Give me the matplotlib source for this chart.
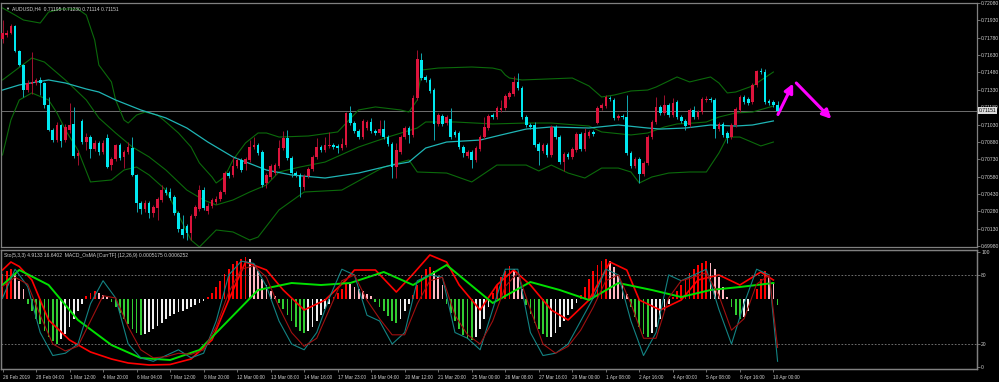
import numpy as np
import matplotlib.pyplot as plt

plt.rcParams['font.family'] = ['Liberation Sans', 'DejaVu Sans']

# AUDUSD H4 candles, bar 0 = 26 Feb 2019 20:00
opens = [0.71769, 0.71804, 0.71821, 0.71881, 0.71665, 0.71544, 0.71328, 0.71380, 0.71389, 0.71415,
         0.71389, 0.71199, 0.70983, 0.70896, 0.71026, 0.70896, 0.70983, 0.71035, 0.70758, 0.71061,
         0.70879, 0.70922, 0.70819, 0.70871, 0.70793, 0.70914, 0.70680, 0.70732, 0.70853, 0.70750,
         0.70793, 0.70827, 0.70594, 0.70352, 0.70300, 0.70352, 0.70266, 0.70309, 0.70378, 0.70464,
         0.70447, 0.70404, 0.70266, 0.70127, 0.70153, 0.70093, 0.70240, 0.70300, 0.70464, 0.70283,
         0.70326, 0.70361, 0.70387, 0.70447, 0.70611, 0.70594, 0.70672, 0.70724, 0.70689, 0.70724,
         0.70836, 0.70853, 0.70793, 0.70525, 0.70577, 0.70611, 0.70672, 0.70827, 0.70914, 0.70741,
         0.70611, 0.70594, 0.70490, 0.70585, 0.70646, 0.70750, 0.70836, 0.70810, 0.70845, 0.70853,
         0.70845, 0.70827, 0.70853, 0.71130, 0.71043, 0.70974, 0.70922, 0.71000, 0.71052, 0.70974,
         0.70957, 0.70991, 0.70922, 0.70862, 0.70663, 0.70793, 0.70922, 0.71000, 0.70940, 0.71259,
         0.71588, 0.71441, 0.71415, 0.71328, 0.71035, 0.71104, 0.71043, 0.71078, 0.70966, 0.70957,
         0.70836, 0.70758, 0.70793, 0.70724, 0.70819, 0.70922, 0.71000, 0.71112, 0.71095, 0.71156,
         0.71173, 0.71268, 0.71294, 0.71398, 0.71346, 0.71095, 0.71026, 0.71026, 0.70862, 0.70801,
         0.70853, 0.70767, 0.71009, 0.70922, 0.70706, 0.70775, 0.70750, 0.70810, 0.70948, 0.70819,
         0.70931, 0.70966, 0.71043, 0.71173, 0.71190, 0.71259, 0.71242, 0.71087, 0.71104, 0.71095,
         0.70784, 0.70672, 0.70732, 0.70603, 0.70698, 0.70922, 0.71052, 0.71182, 0.71130, 0.71199,
         0.71112, 0.71225, 0.71095, 0.71061, 0.71026, 0.71156, 0.71095, 0.71138, 0.71242, 0.71251,
         0.71242, 0.70991, 0.71035, 0.70957, 0.70922, 0.71026, 0.71156, 0.71268, 0.71251, 0.71225,
         0.71372, 0.71493, 0.71484, 0.71233, 0.71225, 0.71195]
highs = [0.71933, 0.71847, 0.71899, 0.71890, 0.71674, 0.71553, 0.71415, 0.71657, 0.71432, 0.71441,
         0.71398, 0.71268, 0.71000, 0.71052, 0.71035, 0.71035, 0.71216, 0.71182, 0.70810, 0.71078,
         0.70957, 0.70940, 0.70896, 0.70888, 0.70896, 0.70948, 0.70750, 0.70862, 0.70871, 0.70810,
         0.70879, 0.70922, 0.70603, 0.70369, 0.70378, 0.70369, 0.70335, 0.70404, 0.70508, 0.70490,
         0.70482, 0.70421, 0.70283, 0.70248, 0.70171, 0.70257, 0.70335, 0.70508, 0.70490, 0.70352,
         0.70395, 0.70413, 0.70464, 0.70629, 0.70629, 0.70750, 0.70741, 0.70741, 0.70750, 0.70896,
         0.70922, 0.70871, 0.70810, 0.70611, 0.70689, 0.70698, 0.70896, 0.70974, 0.70983, 0.70758,
         0.70629, 0.70611, 0.70603, 0.70663, 0.70767, 0.70914, 0.70853, 0.70922, 0.70966, 0.70871,
         0.70862, 0.70914, 0.71138, 0.71190, 0.71061, 0.70991, 0.71078, 0.71069, 0.71087, 0.70991,
         0.71069, 0.71069, 0.70940, 0.70879, 0.70871, 0.70940, 0.71017, 0.71017, 0.71285, 0.71674,
         0.71648, 0.71458, 0.71432, 0.71346, 0.71130, 0.71121, 0.71112, 0.71173, 0.70983, 0.70974,
         0.70853, 0.70810, 0.70810, 0.70845, 0.70940, 0.71095, 0.71121, 0.71130, 0.71190, 0.71242,
         0.71294, 0.71320, 0.71449, 0.71475, 0.71363, 0.71112, 0.71043, 0.71052, 0.70879, 0.70871,
         0.70871, 0.71026, 0.71026, 0.70940, 0.70793, 0.70793, 0.70836, 0.70966, 0.70966, 0.71000,
         0.70983, 0.70983, 0.71190, 0.71216, 0.71285, 0.71277, 0.71259, 0.71121, 0.71121, 0.71285,
         0.70801, 0.70750, 0.70750, 0.70715, 0.70940, 0.71069, 0.71268, 0.71199, 0.71285, 0.71216,
         0.71259, 0.71242, 0.71112, 0.71078, 0.71173, 0.71190, 0.71156, 0.71268, 0.71277, 0.71268,
         0.71259, 0.71052, 0.71052, 0.70974, 0.71043, 0.71182, 0.71285, 0.71285, 0.71268, 0.71389,
         0.71501, 0.71518, 0.71510, 0.71251, 0.71242, 0.71230]
lows = [0.71734, 0.71786, 0.71812, 0.71657, 0.71536, 0.71268, 0.71311, 0.71294, 0.71372, 0.71285,
        0.71173, 0.70974, 0.70879, 0.70879, 0.70836, 0.70879, 0.70957, 0.70741, 0.70680, 0.70862,
        0.70810, 0.70741, 0.70801, 0.70767, 0.70775, 0.70654, 0.70637, 0.70715, 0.70724, 0.70654,
        0.70775, 0.70585, 0.70274, 0.70257, 0.70274, 0.70222, 0.70231, 0.70205, 0.70361, 0.70421,
        0.70378, 0.70248, 0.70102, 0.70050, 0.70032, 0.70032, 0.70222, 0.70283, 0.70292, 0.70257,
        0.70309, 0.70343, 0.70369, 0.70430, 0.70568, 0.70577, 0.70654, 0.70620, 0.70637, 0.70706,
        0.70819, 0.70767, 0.70490, 0.70482, 0.70559, 0.70594, 0.70654, 0.70810, 0.70724, 0.70577,
        0.70577, 0.70404, 0.70464, 0.70568, 0.70629, 0.70732, 0.70793, 0.70793, 0.70827, 0.70819,
        0.70784, 0.70810, 0.70836, 0.71026, 0.70957, 0.70905, 0.70905, 0.70983, 0.70957, 0.70940,
        0.70940, 0.70905, 0.70845, 0.70568, 0.70568, 0.70775, 0.70905, 0.70871, 0.70922, 0.71242,
        0.71415, 0.71398, 0.71303, 0.70896, 0.71017, 0.71017, 0.71026, 0.70905, 0.70922, 0.70819,
        0.70750, 0.70741, 0.70654, 0.70706, 0.70801, 0.70905, 0.70983, 0.71078, 0.71078, 0.71138,
        0.71156, 0.71251, 0.71277, 0.71328, 0.71078, 0.71009, 0.70991, 0.70836, 0.70680, 0.70784,
        0.70750, 0.70750, 0.70905, 0.70689, 0.70629, 0.70732, 0.70732, 0.70793, 0.70801, 0.70801,
        0.70914, 0.70931, 0.71035, 0.71156, 0.71173, 0.71233, 0.71069, 0.71069, 0.71078, 0.70767,
        0.70654, 0.70654, 0.70525, 0.70585, 0.70680, 0.70905, 0.71035, 0.71112, 0.71112, 0.71095,
        0.71095, 0.71078, 0.71043, 0.70983, 0.71009, 0.71078, 0.71078, 0.71121, 0.71225, 0.71225,
        0.70914, 0.70974, 0.70922, 0.70871, 0.70905, 0.71009, 0.71138, 0.71208, 0.71199, 0.71208,
        0.71354, 0.71467, 0.71208, 0.71199, 0.71182, 0.71114]
closes = [0.71821, 0.71821, 0.71881, 0.71665, 0.71544, 0.71328, 0.71389, 0.71398, 0.71415, 0.71389,
          0.71199, 0.70983, 0.70896, 0.71026, 0.70888, 0.71009, 0.71026, 0.70758, 0.70784, 0.70879,
          0.70922, 0.70819, 0.70871, 0.70793, 0.70871, 0.70663, 0.70732, 0.70853, 0.70741, 0.70793,
          0.70836, 0.70594, 0.70352, 0.70300, 0.70352, 0.70266, 0.70318, 0.70387, 0.70464, 0.70438,
          0.70395, 0.70266, 0.70127, 0.70076, 0.70093, 0.70240, 0.70318, 0.70464, 0.70309, 0.70326,
          0.70378, 0.70387, 0.70447, 0.70611, 0.70585, 0.70672, 0.70724, 0.70637, 0.70732, 0.70836,
          0.70853, 0.70784, 0.70508, 0.70594, 0.70672, 0.70680, 0.70827, 0.70914, 0.70741, 0.70611,
          0.70594, 0.70490, 0.70585, 0.70646, 0.70750, 0.70836, 0.70810, 0.70853, 0.70853, 0.70836,
          0.70827, 0.70862, 0.71130, 0.71043, 0.70974, 0.70922, 0.71061, 0.71052, 0.70974, 0.70957,
          0.70991, 0.70922, 0.70862, 0.70663, 0.70810, 0.70922, 0.71000, 0.70940, 0.71259, 0.71596,
          0.71432, 0.71415, 0.71320, 0.71035, 0.71112, 0.71035, 0.71095, 0.70922, 0.70940, 0.70836,
          0.70784, 0.70793, 0.70724, 0.70827, 0.70922, 0.71009, 0.71104, 0.71095, 0.71173, 0.71173,
          0.71277, 0.71303, 0.71398, 0.71346, 0.71095, 0.71026, 0.71009, 0.70853, 0.70801, 0.70853,
          0.70767, 0.71009, 0.70922, 0.70706, 0.70775, 0.70750, 0.70819, 0.70948, 0.70819, 0.70957,
          0.70966, 0.70948, 0.71173, 0.71199, 0.71268, 0.71251, 0.71087, 0.71104, 0.71095, 0.70784,
          0.70672, 0.70732, 0.70603, 0.70698, 0.70922, 0.71052, 0.71182, 0.71130, 0.71199, 0.71112,
          0.71216, 0.71095, 0.71061, 0.71017, 0.71156, 0.71095, 0.71138, 0.71251, 0.71251, 0.71242,
          0.70991, 0.71035, 0.70940, 0.70914, 0.71026, 0.71164, 0.71268, 0.71225, 0.71216, 0.71372,
          0.71493, 0.71484, 0.71225, 0.71216, 0.71199, 0.71151]

# Bollinger bands and moving average, read at the bars where they bend
upper_bars = [0, 3, 5, 9, 11, 14, 18, 20, 22, 23, 26, 27, 29, 30, 32, 34, 37, 39, 42, 45, 47, 50, 51, 53,
              55, 58, 61, 63, 66, 73, 80, 85, 89, 95, 97, 99, 100, 104, 112, 117, 119, 120, 121, 124,
              136, 140, 143, 146, 150, 154, 156, 161, 164, 169, 171, 173, 175, 179, 184]
upper = [0.72037, 0.71976, 0.71933, 0.71907, 0.72002, 0.72028, 0.72028, 0.71976, 0.71760, 0.71544,
         0.71398, 0.71242, 0.71069, 0.71043, 0.71112, 0.71138, 0.71112, 0.71052, 0.70957, 0.70836,
         0.70698, 0.70577, 0.70525, 0.70577, 0.70724, 0.70871, 0.70957, 0.70957, 0.70922, 0.70931,
         0.70966, 0.71156, 0.71182, 0.71156, 0.71138, 0.71242, 0.71501, 0.71518, 0.71527, 0.71518,
         0.71501, 0.71458, 0.71432, 0.71415, 0.71432, 0.71363, 0.71268, 0.71285, 0.71320, 0.71328,
         0.71354, 0.71441, 0.71398, 0.71441, 0.71389, 0.71303, 0.71311, 0.71363, 0.71484]
middle_bars = [0, 7, 10, 15, 20, 23, 27, 31, 35, 39, 44, 48, 51, 55, 59, 63, 66, 71, 77, 85, 92, 99,
               101, 108, 117, 125, 131, 140, 143, 150, 154, 158, 161, 165, 168, 171, 175, 179, 184]
middle = [0.71415, 0.71605, 0.71570, 0.71415, 0.71242, 0.71087, 0.70957, 0.70836, 0.70750, 0.70637,
          0.70464, 0.70378, 0.70335, 0.70378, 0.70447, 0.70508, 0.70620, 0.70663, 0.70706, 0.70836,
          0.70922, 0.71000, 0.71052, 0.71052, 0.71035, 0.71043, 0.71043, 0.71017, 0.70966, 0.70940,
          0.70957, 0.71009, 0.71035, 0.71043, 0.71052, 0.71095, 0.71130, 0.71138, 0.71190]
lower_bars = [0, 2, 4, 7, 11, 13, 15, 18, 21, 26, 29, 32, 35, 39, 42, 45, 47, 51, 55, 59, 61, 66, 72,
              81, 91, 97, 99, 106, 112, 118, 125, 128, 131, 135, 139, 143, 147, 150, 152, 155, 159,
              164, 168, 171, 173, 176, 181, 184]
lower = [0.70767, 0.71069, 0.71242, 0.71303, 0.71242, 0.71130, 0.70983, 0.70810, 0.70534, 0.70551,
         0.70637, 0.70663, 0.70594, 0.70464, 0.70248, 0.70032, 0.69972, 0.70119, 0.70102, 0.70032,
         0.70058, 0.70292, 0.70447, 0.70464, 0.70663, 0.70724, 0.70620, 0.70611, 0.70534, 0.70680,
         0.70680, 0.70629, 0.70680, 0.70611, 0.70568, 0.70654, 0.70654, 0.70620, 0.70525, 0.70577,
         0.70611, 0.70620, 0.70620, 0.70784, 0.70922, 0.70922, 0.70845, 0.70879]
ma_bars = [0, 4, 11, 15, 20, 23, 27, 33, 39, 44, 49, 55, 63, 69, 77, 85, 93, 97, 101, 106, 114, 119,
           125, 131, 140, 147, 154, 157, 163, 169, 175, 179, 184]
ma = [0.71328, 0.71372, 0.71415, 0.71389, 0.71337, 0.71311, 0.71242, 0.71156, 0.71087, 0.71000,
      0.70879, 0.70750, 0.70637, 0.70594, 0.70568, 0.70611, 0.70680, 0.70706, 0.70827, 0.70879,
      0.70896, 0.70940, 0.70991, 0.71009, 0.71000, 0.71026, 0.71000, 0.70991, 0.71000, 0.71026,
      0.71017, 0.71026, 0.71061]

# MACD_OsMA histogram, one value per bar (units of 1e-5)
osma = [100, 112, 120, 100, 72, 40, -20, -48, -80, -100, -128, -152, -168, -180, -160, -140, -112, -80,
        -48, -20, 12, 24, 32, 24, 16, 8, -12, -32, -56, -80, -100, -120, -136, -144, -140, -132, -120,
        -108, -96, -80, -68, -60, -52, -48, -40, -32, -24, -16, -8, 8, 24, 48, 72, 100, 120, 140, 152,
        160, 168, 160, 140, 112, 80, 56, 32, 12, -16, -40, -64, -88, -112, -128, -136, -128, -112, -88,
        -64, -40, -20, 8, 24, 40, 64, 60, 48, 40, 32, 20, 12, -12, -32, -48, -68, -88, -96, -80, -48,
        -20, 16, 56, 96, 120, 128, 112, 88, 56, -20, -56, -88, -120, -144, -160, -164, -152, -120, -80,
        -32, 24, 56, 88, 112, 132, 120, 88, 40, -24, -60, -96, -120, -140, -152, -152, -136, -112, -88,
        -64, -40, -16, 16, 48, 80, 112, 136, 152, 160, 152, 128, 96, 60, 20, -32, -72, -112, -140, -152,
        -136, -112, -80, -48, -20, 8, 32, 56, 80, 104, 120, 136, 144, 152, 144, 120, 88, 48, 8, -32, -64,
        -80, -72, -48, 0, 40, 80, 112, 96, 64, -24]
macd_bars = [0, 2, 4, 7, 11, 16, 21, 26, 30, 35, 40, 45, 50, 54, 58, 63, 67, 72, 77, 82, 84, 89, 94,
             98, 102, 106, 109, 114, 118, 122, 126, 131, 135, 140, 145, 149, 152, 157, 162, 166, 171,
             176, 181, 184]
macd_main = [116, 148, 130, 76, -84, -164, -212, -240, -256, -264, -262, -240, -164, -4, 148, 116, 36,
             -44, -4, 76, 116, 116, 28, 100, 176, 148, 56, -44, 56, 116, 56, -44, -84, -4, 148, 116, -4,
             -44, -4, 76, 96, 56, 108, 76]
signal_bars = [0, 4, 11, 18, 26, 33, 40, 47, 54, 61, 69, 76, 83, 91, 98, 106, 117, 126, 133, 140,
               147, 155, 162, 169, 176, 184]
macd_signal = [56, 116, 56, -84, -184, -236, -244, -204, -84, 36, 64, 56, 64, 108, 56, 136, -16,
               68, 36, -4, 64, 36, 8, 36, 48, 64]

# Stochastic 5,3,3
stoch_bars = list(range(0, 186, 3)) + [185]
stoch_main = [60, 85, 70, 30, 10, 12, 20, 55, 75, 60, 20, 8, 5, 10, 15, 8, 12, 40, 80, 92, 90, 70,
              40, 20, 15, 30, 60, 85, 80, 45, 40, 20, 30, 75, 80, 78, 30, 25, 15, 50, 85, 85, 30, 10,
              12, 20, 40, 60, 85, 80, 40, 10, 30, 80, 75, 80, 85, 50, 20, 55, 85, 80, 5]
stoch_signal = [70, 78, 72, 45, 20, 14, 18, 40, 62, 60, 35, 15, 8, 9, 12, 11, 15, 35, 65, 85, 88, 78,
                52, 30, 18, 25, 50, 75, 80, 58, 42, 28, 28, 55, 75, 78, 45, 28, 20, 40, 70, 82, 50,
                20, 12, 18, 32, 52, 75, 80, 55, 25, 25, 60, 75, 78, 82, 62, 32, 42, 72, 80, 17]

date_labels = ['26 Feb 2019', '28 Feb 04:00', '1 Mar 12:00', '4 Mar 20:00', '6 Mar 04:00',
               '7 Mar 12:00', '8 Mar 20:00', '12 Mar 00:00', '13 Mar 08:00', '14 Mar 16:00',
               '17 Mar 23:00', '19 Mar 04:00', '20 Mar 12:00', '21 Mar 20:00', '25 Mar 00:00',
               '26 Mar 08:00', '27 Mar 16:00', '29 Mar 00:00', '1 Apr 08:00', '2 Apr 16:00',
               '4 Apr 00:00', '5 Apr 08:00', '8 Apr 16:00', '10 Apr 00:00']
price_ticks = [0.72080, 0.71930, 0.71780, 0.71630, 0.71480, 0.71330, 0.71180, 0.71030, 0.70880,
               0.70730, 0.70580, 0.70430, 0.70280, 0.70130, 0.69980]

BG = 'black'
GRID = '#808080'
TXT = '#d0d0d0'
BULL = '#dc143c'
BEAR = '#00e8f0'
FS = 3.6

fig = plt.figure(figsize=(9.99, 3.82), dpi=100, facecolor=BG)
ax = fig.add_axes([1 / 999, 135 / 382, 976 / 999, 244 / 382], facecolor=BG)
ax2 = fig.add_axes([1 / 999, 13 / 382, 976 / 999, 119 / 382], facecolor=BG)
ax3 = ax2.twinx()

xlim = (-0.36, 232.6)

# candles
o = np.array(opens)
h = np.array(highs)
l = np.array(lows)
c = np.array(closes)
x = np.arange(len(c))
up = c >= o
body_col = np.where(up, BULL, BEAR)
wick_col = np.where(up, '#a0102e', '#10a8b0')
ax.vlines(x, l, h, colors=wick_col, lw=0.7, zorder=3)
ax.bar(x, np.maximum(np.abs(c - o), 0.00003), bottom=np.minimum(o, c), width=0.62,
       color=body_col, linewidth=0, zorder=4)

ax.plot(upper_bars, upper, color='#0b6a0b', lw=0.8, zorder=2)
ax.plot(middle_bars, middle, color='#0b6a0b', lw=0.8, zorder=2)
ax.plot(lower_bars, lower, color='#0b6a0b', lw=0.8, zorder=2)
ax.plot(ma_bars, ma, color='#1fb5b5', lw=0.9, zorder=2)

ax.axhline(closes[-1], color=GRID, lw=0.6, zorder=1)

ax.annotate('', xy=(189.0, 0.71406), xytext=(184.8, 0.71095),
            arrowprops=dict(arrowstyle='-|>', color='#ff00ff', lw=2.2, mutation_scale=13))
ax.annotate('', xy=(198.3, 0.71061), xytext=(189.0, 0.71406),
            arrowprops=dict(arrowstyle='-|>', color='#ff00ff', lw=2.2, mutation_scale=13))

ax.set_xlim(*xlim)
ax.set_ylim(0.69972, 0.72080)
ax.set_xticks([])
ax.yaxis.tick_right()
ax.set_yticks(price_ticks)
ax.set_yticklabels(['%.5f' % p for p in price_ticks])
ax.tick_params(axis='y', colors=GRID, labelcolor=TXT, labelsize=FS, length=2, width=0.6, pad=1)
ax.text(1.002, closes[-1], '%.5f' % closes[-1], transform=ax.get_yaxis_transform(),
        fontsize=FS, color='black', va='center', ha='left', zorder=10, clip_on=False,
        bbox=dict(facecolor='#dcdcdc', edgecolor='none', pad=0.5))
ax.text(0.004, 0.985, '\u25bc', transform=ax.transAxes, fontsize=3, color=TXT, va='top', ha='left')
ax.text(0.011, 0.985, 'AUDUSD,H4  0.71195 0.71230 0.71114 0.71151', transform=ax.transAxes,
        fontsize=FS, color=TXT, va='top', ha='left')

# lower window: OsMA histogram and MACD lines
vals = np.array(osma) * 1e-5
prev = np.concatenate([[vals[0]], vals[:-1]])
hist_col = []
for v, p in zip(vals, prev):
    if v >= 0:
        hist_col.append('#ff0000' if v >= p else '#ffb6c1')
    else:
        hist_col.append('#32cd32' if v < p else '#f0f0f0')
ax2.bar(x, vals, width=0.42, color=hist_col, linewidth=0, zorder=2)
ax2.plot(macd_bars, np.array(macd_main) * 1e-5, color='#ff0000', lw=1.2, zorder=4)
ax2.plot(signal_bars, np.array(macd_signal) * 1e-5, color='#00e000', lw=1.4, zorder=4)
ax2.set_ylim(-0.0028, 0.00196)
ax2.set_xlim(*xlim)
ax2.set_yticks([])

pos = [8 * k for k in range(len(date_labels))]
ax2.set_xticks(pos)
ax2.set_xticklabels(date_labels, ha='left')
ax2.tick_params(axis='x', colors=GRID, labelcolor=TXT, labelsize=3.4, length=2.5, width=0.6, pad=1.5)

# stochastic on its own 0-100 scale
ax3.plot(stoch_bars, stoch_main, color='#138383', lw=0.8, zorder=3)
ax3.plot(stoch_bars, stoch_signal, color='#a01010', lw=0.8, zorder=3)
for lvl in (80, 20):
    ax3.axhline(lvl, color=GRID, lw=0.6, ls=(0, (2, 2)), zorder=1)
ax3.set_ylim(-1.7, 101.7)
ax3.set_xlim(*xlim)
ax3.set_yticks([100, 80, 20, 0])
ax3.set_yticklabels(['100', '80', '20', '0'])
ax3.tick_params(axis='y', colors=GRID, labelcolor=TXT, labelsize=FS, length=2, width=0.6, pad=1)
ax3.text(0.003, 0.975, 'Sto(5,3,3) 4.9133 16.6402  MACD_OsMA [CurrTF] (12,26,9) 0.0005175 0.0006252',
         transform=ax3.transAxes, fontsize=FS, color=TXT, va='top', ha='left')

for a in (ax, ax2, ax3):
    for s in a.spines.values():
        s.set_color(GRID)
        s.set_linewidth(0.9)

fig.savefig('out.png', dpi=100, facecolor=BG)
